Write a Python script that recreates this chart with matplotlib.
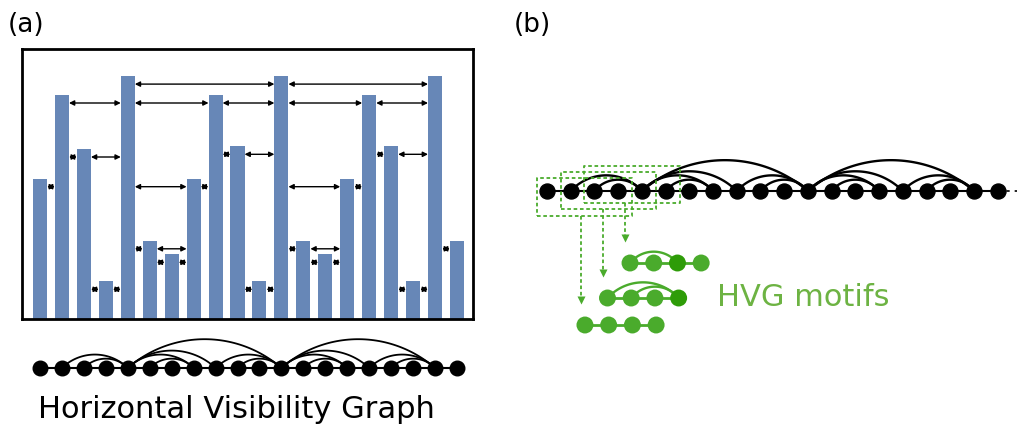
import numpy as np
import matplotlib.pyplot as plt

# bar heights of the time series (panel a)
heights = [5.2, 8.3, 6.3, 1.4, 9.0, 2.9, 2.4, 5.2, 8.3, 6.4,
           1.4, 9.0, 2.9, 2.4, 5.2, 8.3, 6.4, 1.4, 9.0, 2.9]
panel_labels = ["(a)", "(b)"]
hvg_title = "Horizontal Visibility Graph"
motif_title = "HVG motifs"
motif_windows = [0, 1, 2]   # first node of each 4-node window
motif_size = 4
hub_node = 4                # node drawn in dark green in the motifs

BAR_C = "#6787b7"
GREEN = "#4aab2c"
DARK_GREEN = "#2e9c08"
TEXT_GREEN = "#6db343"

W, H = 1018, 430


def hvg_edges(h):
	edges = []
	n = len(h)
	for i in range(n):
		for j in range(i + 1, n):
			if all(h[k] < min(h[i], h[j]) for k in range(i + 1, j)):
				edges.append((i, j))
	return edges


def px_axes(fig, x0, y0, x1, y1):
	# axes placed by pixel box (top-left origin)
	return fig.add_axes([x0 / W, 1 - y1 / H, (x1 - x0) / W, (y1 - y0) / H])


def arc(ax, i, j, y0, h, px_per_x, **kw):
	# circular arc from node i to node j with sagitta h (px)
	c = (j - i) * px_per_x
	R = (c * c / 4 + h * h) / (2 * h)
	th = np.arcsin(c / 2 / R)
	t = np.linspace(-th, th, 60)
	xm = (i + j) / 2
	xs = xm + R * np.sin(t) / px_per_x
	ys = y0 + (h - R) + R * np.cos(t)
	ax.plot(xs, ys, **kw)


edges = hvg_edges(heights)
n = len(heights)
idx = np.arange(n)

fig = plt.figure(figsize=(W / 100, H / 100), dpi=100)

# ---------------- panel (a): bars ----------------
ax = px_axes(fig, 22, 49, 473, 319)
bw = 0.64
ax.bar(idx, heights, width=bw, color=BAR_C, zorder=1)
for i, j in edges:
	y = min(heights[i], heights[j]) - 0.3
	ax.annotate("", xy=(j - bw / 2, y), xytext=(i + bw / 2, y),
				arrowprops=dict(arrowstyle="<|-|>,head_length=0.3,head_width=0.15",
								color="black", lw=1, shrinkA=0, shrinkB=0))
ax.set_xlim(-0.82, 19.73)
ax.set_ylim(0, 10)
ax.set_xticks([])
ax.set_yticks([])
for s in ax.spines.values():
	s.set_linewidth(2)

# ---------------- panel (a): graph ----------------
pxa = 21.95
ga = px_axes(fig, 22, 325, 473, 385)
ga.set_xlim(-0.82, 19.73)
ga.set_ylim(-17, 43)
ga.axis("off")
ga.plot([0, n - 1], [0, 0], color="black", lw=1.5, zorder=1)
for i, j in edges:
	if j - i > 1:
		arc(ga, i, j, 0, 5 * (j - i) ** 0.9, pxa, color="black", lw=1.3, zorder=1)
ga.plot(idx, np.zeros(n), "o", color="black", ms=10.5, zorder=3)

fig.text(236 / W, 1 - 410 / H, hvg_title, fontsize=22, ha="center", va="center")
fig.text(8 / W, 1 - 25 / H, panel_labels[0], fontsize=19, ha="left", va="center")
fig.text(514 / W, 1 - 25 / H, panel_labels[1], fontsize=19, ha="left", va="center")

# ---------------- panel (b) ----------------
pxb = 23.72
gb = px_axes(fig, 520, 140, 1018, 345)
gb.set_xlim((520 - 547) / pxb, (1018 - 547) / pxb)
gb.set_ylim(-154, 51)
gb.axis("off")
gb.plot([0, n - 1], [0, 0], color="black", lw=1.5, zorder=1)
gb.plot([n - 1, n - 0.2], [0, 0], color="black", lw=1.2, ls=(0, (2, 3)), zorder=1)
for i, j in edges:
	if j - i > 1:
		arc(gb, i, j, 0, 6.5 * (j - i) ** 0.8, pxb, color="black", lw=1.7, zorder=1)
gb.plot(idx, np.zeros(n), "o", color="black", ms=10.8, zorder=3)

# sliding windows, arrows and motifs
motif_y = [-134, -107, -72]
for k, w in enumerate(motif_windows):
	x0 = w - 0.43
	x1 = w + motif_size - 1 + 0.6
	yb = -25 + 6.5 * k
	yt = 13 + 6 * k
	gb.plot([x0, x1, x1, x0, x0], [yb, yb, yt, yt, yb], color=GREEN, lw=1.3,
			ls=(0, (2, 1.5)), zorder=2)
	ax_x = w + 1.43 - 0.07 * k
	ytip = motif_y[k] + 22
	gb.plot([ax_x, ax_x], [yb, ytip + 4], color=GREEN, lw=1.3, ls=(0, (2, 1.5)))
	gb.plot(ax_x, ytip + 3, marker="v", color=GREEN, ms=6, mec="none")

	my = motif_y[k]
	mx0 = w + 1.6 - 0.05 * k
	nodes = list(range(w, w + motif_size))
	mx = mx0 + np.arange(motif_size)
	gb.plot([mx[0], mx[-1]], [my, my], color=GREEN, lw=2, zorder=4)
	for i, j in edges:
		if i in nodes and j in nodes and j - i > 1:
			arc(gb, mx0 + i - w, mx0 + j - w, my, 6.5 * (j - i) ** 0.8, pxb,
				color=GREEN, lw=1.7, zorder=4)
	cols = [DARK_GREEN if v == hub_node else GREEN for v in nodes]
	gb.scatter(mx, np.full(motif_size, my), s=12.2 ** 2, c=cols, zorder=5,
			   linewidths=0)

fig.text(803 / W, 1 - 298 / H, motif_title, fontsize=22, color=TEXT_GREEN,
		 ha="center", va="center")

fig.savefig("out.png", dpi=100)
